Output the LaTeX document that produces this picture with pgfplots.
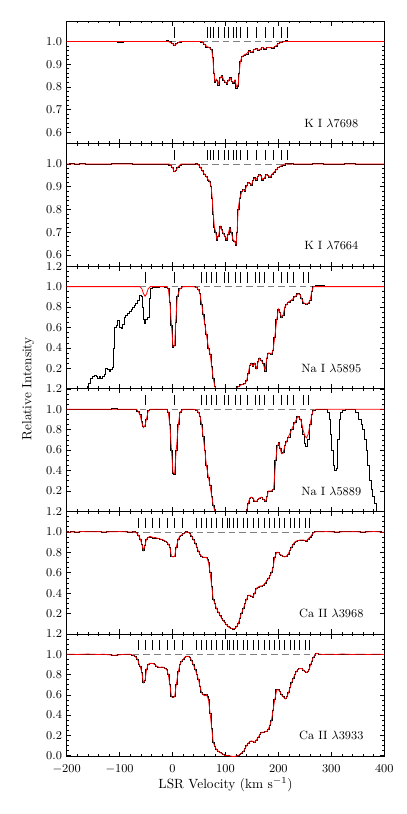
\documentclass[border=0pt]{standalone}
\usepackage{pgfplots}
\pgfplotsset{compat=1.18}
\usepackage{pgfplotstable}

% ---------- K I 7698 ----------
\pgfplotstableread{
x y
-200 1.002
-190 1.0
-180 1.0
-170 0.999
-160 1.0
-150 1.001
-140 0.999
-130 1.0
-120 1.0
-110 0.999
-100 0.996
-95 0.995
-90 0.999
-80 1.001
-70 1.0
-60 1.0
-50 0.999
-40 0.999
-30 1.0
-20 1.0
-15 1.002
-10 1.003
-5 0.999
0 0.99
4 0.981
8 0.99
12 0.997
20 1.0
30 1.0
40 1.0
50 1.0
56 0.997
60 0.985
65 0.975
70 0.973
74 0.965
76 0.93
78 0.86
80 0.82
83 0.83
86 0.808
90 0.84
93 0.851
97 0.83
100 0.82
103 0.81
106 0.83
109 0.84
112 0.825
115 0.815
118 0.83
121 0.795
124 0.8
126 0.86
128 0.91
131 0.935
135 0.94
140 0.945
145 0.96
150 0.95
154 0.965
158 0.97
162 0.96
166 0.965
170 0.975
175 0.965
180 0.975
185 0.972
190 0.97
195 0.98
200 0.99
205 0.995
210 1.0
215 1.003
220 1.002
230 1.0
240 1.0
250 0.999
260 1.0
270 0.998
280 0.999
290 1.001
300 1.002
310 1.0
320 1.0
330 0.998
340 0.999
350 1.0
360 1.0
370 1.0
380 0.999
390 1.0
400 1.0
}\kaA
\pgfplotstableread{
x y
-200 1.0
-8 1.0
0 0.99
4 0.982
8 0.99
14 1.0
55 1.0
60 0.988
65 0.977
70 0.972
74 0.962
76 0.93
78 0.87
80 0.825
83 0.833
86 0.812
90 0.84
93 0.848
97 0.83
100 0.82
103 0.814
106 0.83
109 0.838
112 0.825
115 0.818
118 0.83
121 0.8
124 0.81
126 0.86
128 0.91
131 0.932
135 0.94
140 0.946
145 0.958
150 0.952
154 0.964
158 0.968
162 0.962
166 0.966
170 0.974
175 0.967
180 0.974
185 0.972
190 0.972
195 0.98
200 0.99
205 0.996
212 1.0
400 1.0
}\kaM
\pgfplotstableread{
x y
4 1.04
65 1.04
72 1.04
78 1.04
87 1.04
97 1.04
106 1.04
114 1.04
121 1.04
128 1.04
142 1.04
158 1.04
176 1.04
190 1.04
206 1.04
216 1.04
}\kaC

% ---------- K I 7664 ----------
\pgfplotstableread{
x y
-200 1.0
-190 1.002
-180 1.0
-170 1.003
-160 1.0
-150 1.0
-140 1.0
-130 0.999
-120 1.0
-110 1.003
-100 1.005
-90 1.004
-80 1.002
-70 1.0
-60 0.998
-50 0.999
-40 1.0
-30 1.0
-20 0.999
-10 1.0
-4 0.995
0 0.985
3 0.966
6 0.97
10 0.985
15 0.995
20 1.0
30 1.0
40 1.0
45 1.005
48 1.0
52 0.985
56 0.97
60 0.955
64 0.945
67 0.93
70 0.925
73 0.9
75 0.85
77 0.78
79 0.72
81 0.7
84 0.665
87 0.68
90 0.725
93 0.71
96 0.695
99 0.68
102 0.665
105 0.69
108 0.72
111 0.7
114 0.665
117 0.66
120 0.642
122 0.7
124 0.8
127 0.85
131 0.88
134 0.89
137 0.88
140 0.905
143 0.92
146 0.915
149 0.905
152 0.93
155 0.94
158 0.93
161 0.945
164 0.955
167 0.95
170 0.93
173 0.935
177 0.955
180 0.95
184 0.94
188 0.955
192 0.965
196 0.975
200 0.985
205 0.99
210 0.995
215 1.003
220 1.005
225 1.002
230 1.0
240 1.0
250 0.999
260 1.0
270 1.002
280 1.004
290 1.0
300 0.998
310 1.0
320 1.0
330 1.002
340 1.003
350 1.0
360 0.998
370 1.0
380 1.0
390 0.999
400 1.0
}\kbA
\pgfplotstableread{
x y
-200 1.0
-6 1.0
0 0.985
3 0.966
6 0.97
10 0.986
16 1.0
48 1.0
52 0.987
56 0.972
60 0.956
64 0.945
67 0.932
70 0.925
73 0.9
75 0.85
77 0.78
79 0.725
81 0.705
84 0.668
87 0.685
90 0.725
93 0.71
96 0.695
99 0.68
102 0.668
105 0.69
108 0.718
111 0.7
114 0.668
117 0.66
120 0.645
122 0.7
124 0.8
127 0.85
131 0.878
134 0.888
137 0.882
140 0.903
143 0.918
146 0.915
149 0.907
152 0.928
155 0.938
158 0.932
161 0.944
164 0.953
167 0.948
170 0.932
173 0.937
177 0.953
180 0.95
184 0.942
188 0.955
192 0.965
196 0.975
200 0.985
205 0.992
212 1.0
400 1.0
}\kbM

% ---------- Na I 5895 ----------
\pgfplotstableread{
x y
-200 0.0
-163 0.0
-160 0.02
-157 0.05
-154 0.1
-150 0.12
-146 0.13
-143 0.12
-140 0.1
-137 0.12
-134 0.1
-131 0.12
-128 0.14
-125 0.2
-122 0.19
-118 0.17
-115 0.19
-112 0.21
-110 0.4
-108 0.6
-105 0.62
-102 0.67
-99 0.6
-96 0.59
-93 0.63
-90 0.7
-87 0.72
-84 0.74
-80 0.76
-77 0.78
-74 0.8
-71 0.82
-68 0.84
-64 0.87
-61 0.91
-58 0.9
-56 0.8
-54 0.68
-52 0.645
-49 0.68
-46 0.7
-43 0.88
-40 0.98
-36 0.99
-30 0.995
-20 1.0
-11 0.995
-8 0.98
-5 0.85
-2 0.62
1 0.41
4 0.42
6 0.65
9 0.9
14 0.98
20 1.0
30 1.0
40 1.0
46 0.99
49 0.97
52 0.93
55 0.83
58 0.73
61 0.63
64 0.53
68 0.4
71 0.34
74 0.22
77 0.1
80 0.02
83 0.0
120 0.0
124 0.02
130 0.04
137 0.05
140 0.08
143 0.15
146 0.23
149 0.25
152 0.22
155 0.25
159 0.2
162 0.27
164 0.3
167 0.28
171 0.25
175 0.17
178 0.3
181 0.35
184 0.35
187 0.34
190 0.38
193 0.5
197 0.68
200 0.78
203 0.75
206 0.7
209 0.72
212 0.8
216 0.83
219 0.85
225 0.87
231 0.9
237 0.93
241 0.92
244 0.88
248 0.84
253 0.83
257 0.84
260 0.87
263 0.95
266 1.0
272 1.01
284 1.01
290 1.0
300 1.0
310 1.0
320 0.999
330 1.0
340 1.0
350 1.0
360 1.0
370 1.003
380 1.0
390 1.0
400 1.0
}\naA
\pgfplotstableread{
x y
-200 1.0
-62 1.0
-58 0.98
-55 0.935
-52 0.905
-49 0.93
-46 0.98
-42 1.0
-11 1.0
-8 0.98
-5 0.85
-2 0.62
1 0.415
4 0.42
6 0.65
9 0.9
14 0.98
20 1.0
40 1.0
46 0.99
49 0.97
52 0.93
55 0.83
58 0.73
61 0.63
64 0.53
68 0.4
71 0.34
74 0.22
77 0.1
80 0.02
83 0.0
120 0.0
124 0.02
130 0.04
137 0.05
140 0.08
143 0.15
146 0.23
149 0.25
152 0.22
155 0.25
159 0.2
162 0.27
164 0.3
167 0.28
171 0.25
175 0.18
178 0.3
181 0.35
184 0.35
187 0.34
190 0.38
193 0.5
197 0.68
200 0.78
203 0.75
206 0.7
209 0.72
212 0.8
216 0.83
219 0.85
225 0.87
231 0.9
237 0.93
241 0.92
244 0.88
248 0.84
253 0.83
257 0.84
260 0.87
263 0.95
266 1.0
400 1.0
}\naM
\pgfplotstableread{
x y
-52 1.089
3 1.089
54 1.089
64 1.089
73 1.089
82 1.089
97 1.089
106 1.089
119 1.089
129 1.089
141 1.089
156 1.089
164 1.089
173 1.089
190 1.089
206 1.089
217 1.089
229 1.089
248 1.089
257 1.089
}\naC

% ---------- Na I 5889 ----------
\pgfplotstableread{
x y
-200 1.0
-140 1.0
-130 1.001
-120 1.003
-110 1.005
-100 1.003
-90 1.0
-70 1.0
-65 0.98
-61 0.95
-58 0.88
-55 0.83
-52 0.83
-49 0.9
-46 0.99
-40 1.0
-11 1.0
-8 0.97
-5 0.85
-2 0.6
1 0.37
4 0.36
7 0.6
11 0.85
14 0.97
20 1.0
40 1.0
46 0.99
49 0.97
52 0.93
55 0.85
58 0.73
61 0.6
64 0.45
68 0.33
71 0.25
74 0.15
77 0.06
80 0.0
140 0.0
143 0.08
146 0.13
149 0.14
152 0.13
155 0.1
159 0.1
162 0.12
164 0.13
168 0.14
171 0.12
176 0.1
179 0.15
181 0.2
184 0.2
187 0.2
191 0.22
195 0.5
198 0.65
201 0.68
204 0.62
206 0.58
209 0.58
212 0.65
216 0.69
219 0.72
225 0.8
231 0.87
237 0.93
242 0.9
245 0.82
247 0.75
250 0.67
253 0.64
256 0.7
260 0.85
263 0.95
266 0.99
272 1.0
291 1.0
294 0.97
297 0.9
300 0.75
302 0.6
304 0.45
307 0.4
311 0.42
313 0.7
316 0.9
320 0.97
323 0.99
329 1.0
342 1.0
348 0.97
354 0.9
358 0.85
361 0.8
364 0.7
367 0.6
370 0.45
374 0.3
377 0.22
380 0.15
383 0.08
386 0.0
390 0.0
}\nbA
\pgfplotstableread{
x y
-200 1.0
-68 1.0
-65 0.98
-61 0.94
-58 0.87
-55 0.82
-52 0.84
-49 0.91
-46 0.98
-42 1.0
-11 1.0
-8 0.97
-5 0.84
-2 0.6
1 0.38
4 0.37
7 0.6
11 0.85
14 0.97
20 1.0
40 1.0
46 0.99
49 0.97
52 0.93
55 0.85
58 0.73
61 0.6
64 0.45
68 0.33
71 0.25
74 0.15
77 0.06
80 0.0
140 0.0
143 0.08
146 0.13
149 0.14
152 0.13
155 0.1
159 0.1
162 0.12
164 0.13
168 0.14
171 0.12
176 0.1
179 0.15
181 0.2
184 0.2
187 0.2
191 0.22
195 0.5
198 0.64
201 0.67
204 0.6
206 0.565
209 0.57
212 0.64
216 0.69
219 0.73
225 0.8
231 0.87
237 0.93
242 0.9
245 0.84
247 0.79
250 0.74
253 0.72
256 0.75
260 0.85
263 0.94
266 0.99
272 1.0
400 1.0
}\nbM

% ---------- Ca II 3968 ----------
\pgfplotstableread{
x y
-200 1.0
-195 0.995
-190 1.0
-180 0.998
-170 1.003
-160 1.0
-150 1.0
-140 1.002
-130 0.998
-120 1.0
-110 1.0
-100 1.003
-90 1.0
-80 0.998
-72 1.0
-68 0.99
-65 0.97
-61 0.93
-58 0.88
-55 0.82
-52 0.87
-49 0.93
-46 0.945
-43 0.955
-39 0.95
-36 0.94
-33 0.945
-30 0.94
-27 0.935
-24 0.93
-20 0.925
-17 0.92
-14 0.91
-11 0.9
-8 0.88
-5 0.85
-2 0.76
1 0.755
4 0.76
7 0.85
11 0.93
14 0.96
17 0.97
20 0.98
23 0.99
26 1.0
30 0.995
33 0.98
36 0.96
39 0.93
43 0.89
46 0.85
49 0.81
52 0.78
55 0.76
58 0.75
61 0.75
64 0.75
66 0.73
68 0.7
71 0.6
74 0.47
77 0.34
80 0.3
83 0.25
87 0.21
90 0.18
93 0.15
96 0.13
99 0.11
102 0.09
105 0.075
108 0.06
111 0.055
115 0.05
118 0.055
121 0.07
124 0.1
127 0.15
130 0.2
134 0.25
137 0.3
140 0.34
143 0.38
146 0.38
149 0.37
152 0.36
155 0.4
159 0.45
162 0.46
165 0.47
168 0.47
172 0.48
175 0.5
178 0.52
181 0.54
184 0.57
187 0.6
190 0.65
193 0.75
197 0.8
200 0.8
203 0.78
206 0.77
209 0.76
212 0.755
215 0.76
218 0.78
222 0.82
225 0.85
228 0.88
231 0.9
234 0.91
238 0.915
241 0.92
244 0.92
247 0.92
250 0.915
253 0.91
256 0.93
260 0.95
263 0.97
266 0.99
270 1.0
280 1.0
290 1.003
300 1.0
310 0.998
320 1.0
330 1.0
340 1.002
350 1.0
360 0.998
370 1.0
380 1.003
390 1.0
400 0.995
}\caA
\pgfplotstableread{
x y
-65 1.089
-52 1.089
-38 1.089
-24 1.089
-10 1.089
3 1.089
18 1.089
45 1.089
54 1.089
64 1.089
74 1.089
83 1.089
94 1.089
104 1.089
108 1.089
114 1.089
123 1.089
133 1.089
142 1.089
153 1.089
163 1.089
173 1.089
183 1.089
192 1.089
202 1.089
212 1.089
222 1.089
231 1.089
240 1.089
250 1.089
258 1.089
}\caC

% ---------- Ca II 3933 ----------
\pgfplotstableread{
x y
-200 1.0
-190 1.0
-180 0.998
-170 1.0
-160 1.002
-150 1.0
-140 0.998
-130 1.0
-120 0.995
-110 0.99
-100 0.995
-90 1.0
-80 1.0
-74 0.99
-70 0.975
-66 0.95
-63 0.9
-61 0.88
-58 0.82
-55 0.72
-52 0.74
-49 0.85
-46 0.9
-43 0.91
-39 0.91
-36 0.905
-33 0.9
-30 0.88
-27 0.875
-24 0.87
-20 0.875
-17 0.87
-14 0.86
-11 0.85
-8 0.8
-5 0.7
-2 0.58
1 0.575
4 0.58
7 0.7
11 0.83
14 0.9
17 0.93
20 0.95
23 0.97
27 0.98
30 0.98
33 0.965
36 0.94
39 0.9
43 0.85
46 0.8
49 0.75
52 0.68
55 0.62
58 0.6
61 0.59
64 0.6
66 0.58
68 0.55
71 0.42
74 0.27
77 0.13
80 0.09
83 0.06
87 0.04
90 0.03
93 0.02
96 0.01
100 0.0
105 0.0
110 -0.005
115 -0.01
120 -0.005
124 0.0
127 0.01
130 0.025
134 0.04
137 0.07
140 0.1
143 0.12
146 0.14
149 0.145
152 0.14
155 0.13
158 0.15
162 0.18
165 0.21
168 0.23
172 0.23
175 0.235
178 0.24
181 0.26
184 0.3
187 0.35
190 0.45
193 0.55
197 0.65
200 0.65
203 0.63
206 0.6
209 0.58
212 0.565
214 0.56
216 0.58
219 0.62
222 0.67
225 0.72
228 0.76
231 0.8
234 0.83
237 0.85
240 0.86
244 0.86
247 0.845
250 0.83
253 0.82
256 0.83
258 0.85
261 0.9
263 0.93
266 0.97
269 0.99
272 1.01
278 1.0
285 0.998
290 1.0
300 1.0
310 0.998
320 1.003
330 1.0
340 0.998
350 1.0
360 1.0
370 0.998
380 1.0
390 1.0
400 0.998
}\cbA

\pgfplotsset{
  panel/.style={
    scale only axis, width=238.2pt, height=91.95pt,
    anchor=north west,
    xmin=-200, xmax=400,
    xtick={-200,-100,0,100,200,300,400},
    minor x tick num=4,
    xticklabels={},
    tick align=inside, xtick pos=both, ytick pos=both,
    major tick length=3.5pt, minor tick length=1.8pt,
    tick style={black, line width=0.4pt},
    axis line style={line width=0.5pt},
    ticklabel style={font=\small},
    yticklabel style={/pgf/number format/.cd, fixed, fixed zerofill, precision=1},
  },
  kpan/.style={panel, ymin=0.55, ymax=1.09, ytick={0.6,0.7,0.8,0.9,1.0}, minor y tick num=4},
  npan/.style={panel, ymin=0, ymax=1.2, ytick={0.2,0.4,0.6,0.8,1.0,1.2}, minor y tick num=3},
  spec/.style={black, line width=0.6pt, const plot mark mid},
  model/.style={red, line width=0.6pt},
  comp/.style={only marks, mark=|, mark size=3.9pt, mark options={black, line width=0.5pt}},
  cont/.style={gray, line width=0.5pt, dash pattern=on 5pt off 3pt},
}

\begin{document}
\begin{tikzpicture}
% Panel 1
\begin{axis}[kpan, at={(0pt,0pt)}]
\addplot[cont] coordinates {(-6,1) (226,1)};
\addplot[spec] table[x=x,y=y] {\kaA};
\addplot[model] table[x=x,y=y] {\kaM};
\addplot[comp] table[x=x,y=y] {\kaC};
\node[font=\small] at (axis cs:300,0.64) {K\,\,I\,\,$\lambda$7698};
\end{axis}
% Panel 2
\begin{axis}[kpan, at={(0pt,-91.95pt)}]
\addplot[cont] coordinates {(-6,1) (226,1)};
\addplot[spec] table[x=x,y=y] {\kbA};
\addplot[model] table[x=x,y=y] {\kbM};
\addplot[comp] table[x=x,y=y] {\kaC};
\node[font=\small] at (axis cs:300,0.643) {K\,\,I\,\,$\lambda$7664};
\end{axis}
% Panel 3
\begin{axis}[npan, at={(0pt,-183.9pt)}]
\addplot[cont] coordinates {(-62,1) (267,1)};
\addplot[spec] table[x=x,y=y] {\naA};
\addplot[model] table[x=x,y=y] {\naM};
\addplot[comp] table[x=x,y=y] {\naC};
\node[font=\small] at (axis cs:300,0.2) {Na\,\,I\,\,$\lambda$5895};
\end{axis}
% Panel 4
\begin{axis}[npan, at={(0pt,-275.85pt)}]
\addplot[cont] coordinates {(-62,1) (267,1)};
\addplot[spec] table[x=x,y=y] {\nbA};
\addplot[model] table[x=x,y=y] {\nbM};
\addplot[comp] table[x=x,y=y] {\naC};
\node[font=\small] at (axis cs:300,0.2) {Na\,\,I\,\,$\lambda$5889};
\end{axis}
% Panel 5
\begin{axis}[npan, at={(0pt,-367.8pt)}]
\addplot[cont] coordinates {(-75,1) (268,1)};
\addplot[spec] table[x=x,y=y] {\caA};
\addplot[model] table[x=x,y=y] {\caA};
\addplot[comp] table[x=x,y=y] {\caC};
\node[font=\small] at (axis cs:300,0.2) {Ca\,\,II\,\,$\lambda$3968};
\end{axis}
% Panel 6
\begin{axis}[panel, at={(0pt,-459.75pt)}, ymin=-0.01, ymax=1.2, ytick={0,0.2,0.4,0.6,0.8,1.0,1.2}, minor y tick num=3,
  xticklabels={$-200$,$-100$,0,100,200,300,400},
  xticklabel style={yshift=-2.5pt},
  xlabel={LSR Velocity (km s$^{-1}$)}, xlabel style={yshift=4pt}]
\addplot[cont] coordinates {(-75,1) (268,1)};
\addplot[spec] table[x=x,y=y] {\cbA};
\addplot[model] table[x=x,y=y] {\cbA};
\addplot[comp] table[x=x,y=y] {\caC};
\node[font=\small] at (axis cs:300,0.2) {Ca\,\,II\,\,$\lambda$3933};
\end{axis}
\node[rotate=90] at (-29pt,-275.85pt) {Relative Intensity};
\pgfresetboundingbox
\path[use as bounding box] (-50pt,15.75pt) rectangle (255.2pt,-594.75pt);
\end{tikzpicture}
\end{document}
